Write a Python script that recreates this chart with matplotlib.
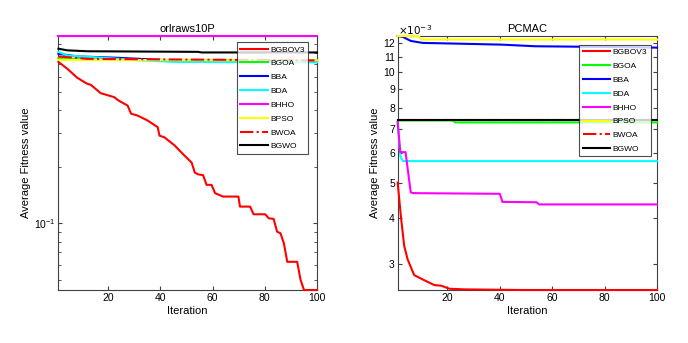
import numpy as np
import matplotlib.pyplot as plt
from matplotlib.ticker import FixedLocator, NullFormatter, FuncFormatter

plt.rcParams['font.family'] = ['Liberation Sans', 'DejaVu Sans']

names = ['BGBOV3', 'BGOA', 'BBA', 'BDA', 'BHHO', 'BPSO', 'BWOA', 'BGWO']
colors = ['#ff0000', '#00ff00', '#0000ff', '#00ffff', '#ff00ff', '#ffff00', '#ff0000', '#000000']
styles = ['-', '-', '-', '-', '-', '-', '-.', '-']

# orlraws10P  (iteration, average fitness)
orl_bgbo_it = [1, 4.4, 8.2, 12, 13.4, 17.2, 22.3, 24, 27.5, 28.8, 31.4, 32.6, 35.2, 39, 39.7,
               41.6, 45.5, 48.7, 52, 53.2, 54.4, 56.4, 57.7, 59.6, 61, 64, 69.9, 70.5, 74.4,
               75.7, 80.2, 81.5, 83.4, 84.7, 86, 87.3, 88.6, 92.4, 93.7, 95, 100]
orl_bgbo_v = [0.720, 0.662, 0.593, 0.551, 0.544, 0.491, 0.468, 0.449, 0.422, 0.382, 0.373,
              0.366, 0.351, 0.324, 0.292, 0.286, 0.259, 0.233, 0.210, 0.186, 0.182, 0.180,
              0.160, 0.160, 0.1445, 0.1386, 0.1386, 0.1226, 0.1226, 0.1116, 0.1116, 0.1063,
              0.1054, 0.0902, 0.0885, 0.0784, 0.0624, 0.0624, 0.0500, 0.0442, 0.0442]
orl_bgoa_it = [1, 10, 30, 100]
orl_bgoa_v = [0.757, 0.745, 0.736, 0.733]
orl_bba_it = [1, 8.2, 23.6, 45.5, 100]
orl_bba_v = [0.795, 0.770, 0.757, 0.732, 0.728]
orl_bda_it = [1, 4.4, 30, 45.5, 100]
orl_bda_v = [0.814, 0.779, 0.738, 0.720, 0.716]
orl_bhho_it = [1, 100]
orl_bhho_v = [0.988, 0.988]
orl_bpso_it = [1, 100]
orl_bpso_v = [0.738, 0.733]
orl_bwoa_it = [1, 12, 100]
orl_bwoa_v = [0.770, 0.747, 0.733]
orl_bgwo_it = [1, 4.4, 12, 54.4, 55.8, 100]
orl_bgwo_v = [0.846, 0.829, 0.820, 0.814, 0.808, 0.808]

# PCMAC  (iteration, average fitness x 1e-3)
pc_bgbo_it = [1, 2.3, 3.5, 4.8, 7.3, 11.2, 15, 17.6, 20.8, 26.6, 48, 100]
pc_bgbo_v = [5.0, 4.0, 3.36, 3.09, 2.80, 2.71, 2.63, 2.62, 2.57, 2.56, 2.55, 2.55]
pc_bgoa_it = [1, 22, 23, 100]
pc_bgoa_v = [7.38, 7.38, 7.29, 7.29]
pc_bba_it = [1, 3, 6, 10.5, 22.8, 40.8, 53.6, 80.5, 100]
pc_bba_v = [12.53, 12.46, 12.15, 12.0, 11.95, 11.87, 11.75, 11.70, 11.65]
pc_bda_it = [1, 2, 3, 100]
pc_bda_v = [7.3, 5.9, 5.72, 5.72]
pc_bhho_it = [1, 2, 4, 6, 7, 40, 41, 54, 55, 100]
pc_bhho_v = [7.3, 6.05, 6.05, 4.7, 4.68, 4.66, 4.43, 4.42, 4.36, 4.36]
pc_bpso_it = [1, 9, 10, 100]
pc_bpso_v = [12.53, 12.53, 12.26, 12.26]
pc_bwoa_it = [1, 100]
pc_bwoa_v = [7.4, 7.4]
pc_bgwo_it = [1, 100]
pc_bgwo_v = [7.38, 7.38]

orl = [(orl_bgbo_it, orl_bgbo_v), (orl_bgoa_it, orl_bgoa_v), (orl_bba_it, orl_bba_v),
       (orl_bda_it, orl_bda_v), (orl_bhho_it, orl_bhho_v), (orl_bpso_it, orl_bpso_v),
       (orl_bwoa_it, orl_bwoa_v), (orl_bgwo_it, orl_bgwo_v)]
pc = [(pc_bgbo_it, pc_bgbo_v), (pc_bgoa_it, pc_bgoa_v), (pc_bba_it, pc_bba_v),
      (pc_bda_it, pc_bda_v), (pc_bhho_it, pc_bhho_v), (pc_bpso_it, pc_bpso_v),
      (pc_bwoa_it, pc_bwoa_v), (pc_bgwo_it, pc_bgwo_v)]

fig = plt.figure(figsize=(6.88, 3.43), dpi=100)
ax1 = fig.add_axes([0.0849, 0.1545, 0.3759, 0.7405])
ax2 = fig.add_axes([0.578, 0.1545, 0.377, 0.7405])

def draw(ax, data, title, legend_anchor):
    allv = []
    for (it, v), n, c, s in zip(data, names, colors, styles):
        ax.plot(it, v, color=c, ls=s, lw=1.5, label=n, clip_on=False)
        allv += list(v)
    ax.set_yscale('log')
    ax.set_xlim(1, 100)
    ax.set_ylim(min(allv), max(allv))
    ax.set_xticks([20, 40, 60, 80, 100])
    ax.set_title(title, fontsize=8, pad=3)
    ax.set_xlabel('Iteration', fontsize=8, labelpad=2)
    ax.set_ylabel('Average Fitness value', fontsize=8, labelpad=2)
    ax.tick_params(which='both', direction='in', top=True, right=True,
                   labelsize=7.5, color='#404040', pad=2)
    ax.tick_params(which='major', length=3)
    ax.tick_params(which='minor', length=2)
    for sp in ax.spines.values():
        sp.set_color('#404040')
        sp.set_linewidth(0.8)
        sp.set_zorder(1)
    leg = ax.legend(loc='upper right', bbox_to_anchor=legend_anchor, fontsize=6,
                    handlelength=3.3, handletextpad=0.3, labelspacing=0.72,
                    borderpad=0.4, frameon=True, fancybox=False, borderaxespad=0)
    leg.get_frame().set_edgecolor('#202020')
    leg.get_frame().set_linewidth(0.8)
    leg.set_zorder(5)

draw(ax1, orl, 'orlraws10P', (0.965, 0.975))
ax1.yaxis.set_minor_formatter(NullFormatter())

draw(ax2, pc, 'PCMAC', (0.975, 0.964))
ax2.yaxis.set_major_locator(FixedLocator([3, 4, 5, 6, 7, 8, 9, 10, 11, 12]))
ax2.yaxis.set_major_formatter(FuncFormatter(lambda v, p: '%d' % round(v)))
ax2.yaxis.set_minor_locator(FixedLocator([]))
ax2.yaxis.set_minor_formatter(NullFormatter())
ax2.text(0.0, 0.995, r'$\times10^{-3}$', transform=ax2.transAxes, fontsize=7.5,
         ha='left', va='bottom')

fig.savefig('out.png', dpi=100)
